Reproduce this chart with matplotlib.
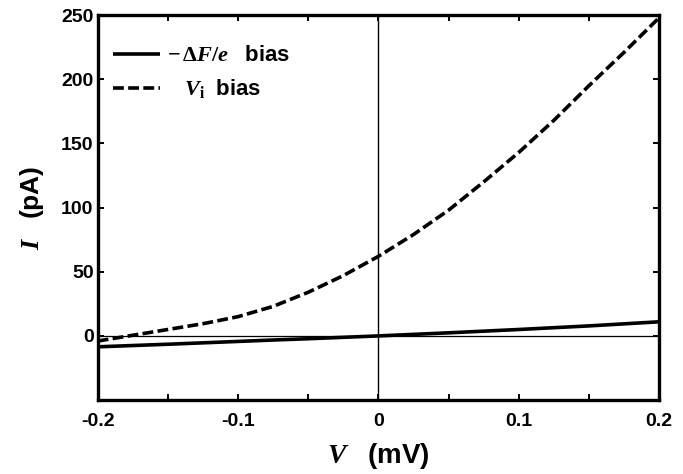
import numpy as np
import matplotlib
matplotlib.use("Agg")
import matplotlib.pyplot as plt
from matplotlib.ticker import MultipleLocator

# ---- data ----
v_mV = [-0.2, -0.175, -0.15, -0.125, -0.1, -0.075, -0.05, -0.025, 0.0,
        0.025, 0.05, 0.075, 0.1, 0.125, 0.15, 0.175, 0.2]
i_dF_bias = [-8.5, -7.5, -6.5, -5.4, -4.3, -3.2, -2.2, -1.1, 0.0,
             1.2, 2.4, 3.7, 5.0, 6.4, 7.8, 9.4, 11.0]
i_Vi_bias = [-4, 0.5, 5, 9.5, 15, 23, 34, 47, 62,
             79, 98, 120, 143, 168, 195, 221, 248]

x_ticks = [-0.2, -0.1, 0, 0.1, 0.2]
x_tick_labels = ["-0.2", "-0.1", "0", "0.1", "0.2"]
y_ticks = [0, 50, 100, 150, 200, 250]
y_tick_labels = ["0", "50", "100", "150", "200", "250"]

plt.rcParams["font.family"] = ["Liberation Sans", "DejaVu Sans"]
plt.rcParams["font.weight"] = "bold"
plt.rcParams["axes.unicode_minus"] = False
plt.rcParams["mathtext.fontset"] = "custom"
plt.rcParams["mathtext.it"] = "Liberation Serif:italic"
plt.rcParams["mathtext.rm"] = "Liberation Serif"
plt.rcParams["mathtext.bf"] = "Liberation Sans:bold"
plt.rcParams["mathtext.sf"] = "Liberation Sans"

fig = plt.figure(figsize=(6.83, 4.74), dpi=100)
ax = fig.add_axes([0.143, 0.156, 0.822, 0.812])

# reference lines
ax.axvline(0, color="black", lw=1.0, zorder=1)
ax.axhline(0, color="black", lw=0.9, zorder=1)

ax.plot(v_mV, i_dF_bias, color="black", lw=2.6, solid_capstyle="butt",
        label=r"$-\,\Delta F/e\quad\mathbf{bias}$")
ax.plot(v_mV, i_Vi_bias, color="black", lw=2.6, linestyle=(0, (3.0, 1.2)),
        label=r"$\ \ \ V_{\mathrm{i}}\ \ \mathbf{bias}$")

ax.set_xlim(-0.2, 0.2)
ax.set_ylim(-50, 250)
ax.set_xticks(x_ticks)
ax.set_xticklabels(x_tick_labels)
ax.xaxis.set_minor_locator(MultipleLocator(0.05))
ax.set_yticks(y_ticks)
ax.set_yticklabels(y_tick_labels)

ax.tick_params(which="both", direction="in", top=True, right=True,
               labelsize=14, width=1.4)
ax.tick_params(which="major", length=4)
ax.tick_params(which="minor", length=4)
ax.tick_params(axis="x", pad=9)
ax.tick_params(axis="y", pad=3)
for sp in ax.spines.values():
    sp.set_linewidth(2.4)

ax.set_xlabel(r"$V\quad\mathbf{(mV)}$", fontsize=20, labelpad=8)
ax.set_ylabel(r"$I\quad\mathbf{(pA)}$", fontsize=19, labelpad=11)

leg = ax.legend(loc="upper left", bbox_to_anchor=(0.0, 0.962), frameon=False,
                fontsize=16, handlelength=2.1, handletextpad=0.3,
                labelspacing=0.5, borderpad=0.2)

fig.savefig("out.png", dpi=100)
